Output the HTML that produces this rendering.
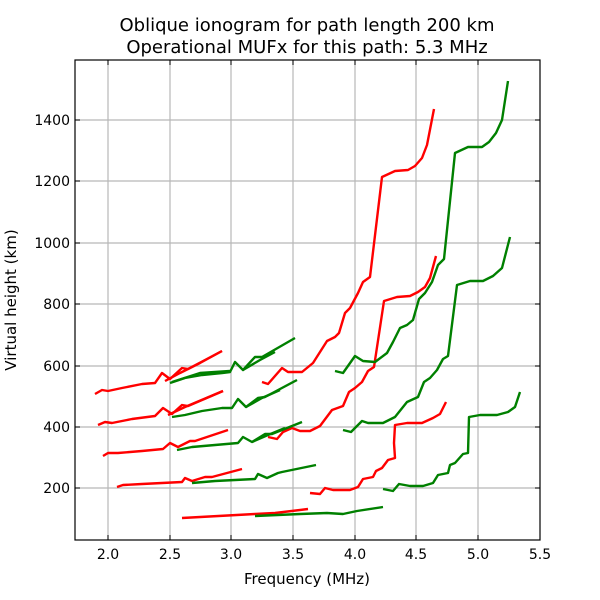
<!DOCTYPE html>
<html><head><meta charset="utf-8"><style>
body{margin:0;background:#fff}
svg{display:block;font-family:"DejaVu Sans","Liberation Sans",sans-serif}
</style></head><body>
<svg width="600" height="600" viewBox="0 0 600 600" xmlns="http://www.w3.org/2000/svg">
<rect width="600" height="600" fill="#fff"/>
<g stroke="#b8b8b8" stroke-width="1.2">
<line x1="108" y1="60" x2="108" y2="540"/><line x1="170" y1="60" x2="170" y2="540"/>
<line x1="231" y1="60" x2="231" y2="540"/><line x1="293" y1="60" x2="293" y2="540"/>
<line x1="355" y1="60" x2="355" y2="540"/><line x1="416" y1="60" x2="416" y2="540"/>
<line x1="478" y1="60" x2="478" y2="540"/>
<line x1="75" y1="488" x2="540" y2="488"/><line x1="75" y1="427" x2="540" y2="427"/>
<line x1="75" y1="366" x2="540" y2="366"/><line x1="75" y1="304" x2="540" y2="304"/>
<line x1="75" y1="243" x2="540" y2="243"/><line x1="75" y1="181" x2="540" y2="181"/>
<line x1="75" y1="120" x2="540" y2="120"/>
</g>
<g fill="none" stroke-width="2.4" stroke-linejoin="round">
<g stroke="#ff0000">
<polyline points="95,394 102,390 108,391 122,388 142,384 155,383 162,373 170,379 182,368 188,369 222,351"/>
<polyline points="165,381 180,373 200,363 222,351"/>
<polyline points="98,425 105,422 112,423 132,419 155,416 163,408 172,414 182,405 188,406 223,391"/>
<polyline points="168,415 185,407 223,391"/>
<polyline points="103,456 108,453 118,453 142,451 163,449 170,443 178,447 190,441 195,441 228,430"/>
<polyline points="117,487 123,485 142,484 182,482 185,478 192,481 205,477 212,477 242,469"/>
<polyline points="182,518 255,514 275,513 308,509"/>
<polyline points="262,382 268,384 282,368 288,372 302,372 313,363 327,341 335,337 339,333 345,313 350,308 358,293 363,282 370,277 382,177 395,171 408,170 415,166 422,158 427,145 434,109"/>
<polyline points="268,437 277,439 283,432 292,428 300,431 310,431 320,426 332,410 343,406 349,392 355,388 362,382 368,371 374,367 384,301 397,297 410,296 418,292 425,287 430,278 436,256"/>
<polyline points="310,493 320,494 325,488 333,490 350,490 358,487 363,479 373,477 376,471 382,468 388,460 395,458 394,443 395,425 407,423 422,423 433,418 440,414 446,402"/>
</g>
<g stroke="#008000">
<polyline points="170,383 185,378 202,375 222,373 230,372 235,362 243,370 255,357 262,357 295,338"/>
<polyline points="172,382 200,373 230,371"/>
<polyline points="243,370 260,360 275,352"/>
<polyline points="172,417 185,415 202,411 222,408 232,408 238,399 246,407 258,398 265,397 297,380"/>
<polyline points="246,407 262,398 280,390"/>
<polyline points="177,450 192,447 215,445 238,443 243,437 252,442 265,434 272,434 302,422"/>
<polyline points="252,442 268,435 285,428"/>
<polyline points="192,483 215,481 255,479 258,474 267,478 278,473 282,472 316,465"/>
<polyline points="255,516 300,514 327,513 343,514 357,511 383,507"/>
<polyline points="335,371 343,373 355,356 363,361 375,362 387,353 393,342 400,328 407,325 413,320 419,299 425,293 432,282 438,265 444,259 455,153 468,147 482,147 489,142 496,133 502,120 508,81"/>
<polyline points="343,430 351,432 362,421 368,423 383,423 395,417 407,402 418,397 424,382 430,378 437,370 443,359 448,356 457,285 470,281 483,281 493,276 502,268 510,237"/>
<polyline points="383,489 393,491 399,484 410,486 423,486 433,483 438,475 448,473 450,465 455,463 463,454 468,453 469,417 480,415 497,415 508,412 515,407 520,392"/>
</g>
</g>
<rect x="75" y="60" width="465" height="480" fill="none" stroke="#000" stroke-width="1.2"/>
<g stroke="#000" stroke-width="1">
<path d="M108 540v-5M170 540v-5M231 540v-5M293 540v-5M355 540v-5M416 540v-5M478 540v-5M108 60v5M170 60v5M231 60v5M293 60v5M355 60v5M416 60v5M478 60v5"/>
<path d="M75 488h5M75 427h5M75 366h5M75 304h5M75 243h5M75 181h5M75 120h5M540 488h-5M540 427h-5M540 366h-5M540 304h-5M540 243h-5M540 181h-5M540 120h-5"/>
</g>
<g font-size="14" fill="#000" text-anchor="middle">
<text x="108" y="559">2.0</text><text x="170" y="559">2.5</text>
<text x="231" y="559">3.0</text><text x="293" y="559">3.5</text><text x="355" y="559">4.0</text>
<text x="416" y="559">4.5</text><text x="478" y="559">5.0</text><text x="540" y="559">5.5</text>
</g>
<g font-size="14" fill="#000" text-anchor="end">
<text x="70" y="493">200</text><text x="70" y="432">400</text><text x="70" y="371">600</text>
<text x="70" y="309">800</text><text x="70" y="248">1000</text><text x="70" y="186">1200</text>
<text x="70" y="125">1400</text>
</g>
<text x="307" y="584" font-size="15" text-anchor="middle">Frequency (MHz)</text>
<text x="0" y="0" font-size="15" text-anchor="middle" transform="translate(16,300) rotate(-90)">Virtual height (km)</text>
<text x="307" y="31" font-size="18" text-anchor="middle">Oblique ionogram for path length 200 km</text>
<text x="307" y="53" font-size="18" text-anchor="middle">Operational MUFx for this path: 5.3 MHz</text>
</svg>
</body></html>
